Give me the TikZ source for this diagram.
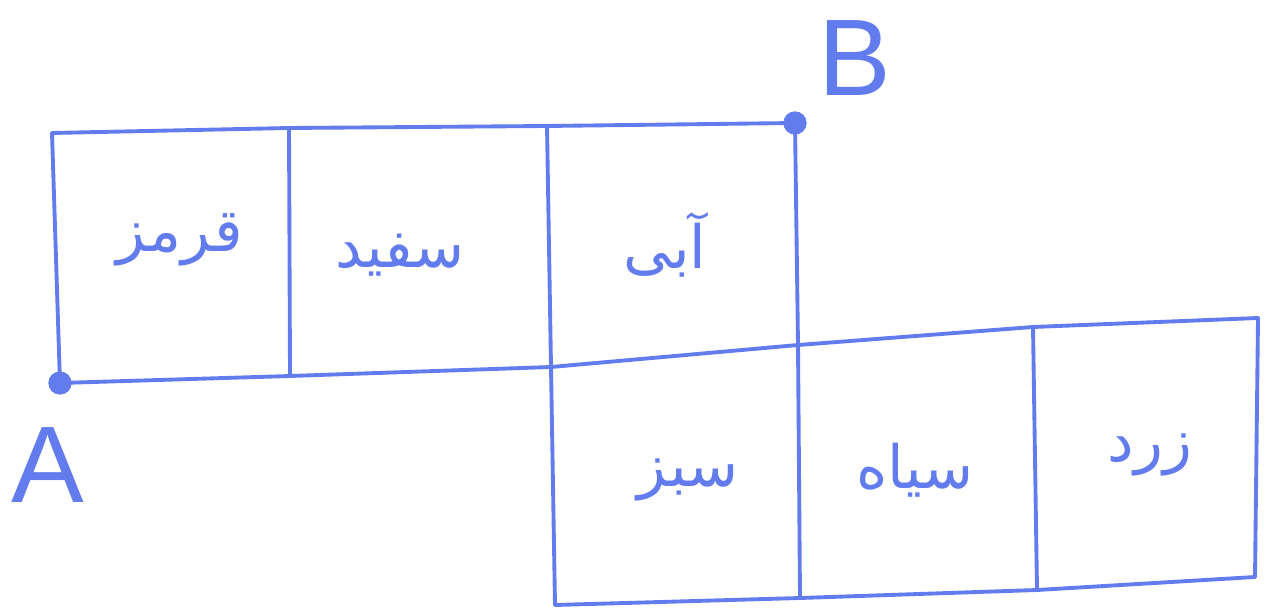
\documentclass[tikz,border=0pt]{standalone}
\usepackage{fontspec}
\setmainfont{Liberation Sans}
\newfontfamily\arabicfont[Script=Arabic]{DejaVu Sans}
\TeXXeTstate=1
\definecolor{pen}{RGB}{98,124,238}

\begin{document}
\begin{tikzpicture}[
    x=0.02cm, y=-0.02cm,
    edge/.style={pen, line width=2.2pt, line cap=round, line join=round},
    word/.style={text=pen, font=\arabicfont\fontsize{34}{40}\selectfont},
    dot/.style={circle, fill=pen, draw=pen, inner sep=0pt, minimum size=0.45cm},
    letter/.style={text=pen, font=\fontsize{62}{70}\selectfont}
]
\useasboundingbox (0,0) rectangle (1273,611);

% corners of the grid
\coordinate (a1) at (52,133);
\coordinate (a2) at (289,128);
\coordinate (a3) at (547,126);
\coordinate (a4) at (795,123);
\coordinate (b1) at (60,383);
\coordinate (b2) at (290,376);
\coordinate (b3) at (551,367);
\coordinate (b4) at (798,345);
\coordinate (c5) at (1033,327);
\coordinate (c6) at (1258,318);
\coordinate (d3) at (555,605);
\coordinate (d4) at (800,598);
\coordinate (d5) at (1037,590);
\coordinate (d6) at (1255,577);

% top row
\draw[edge] (a1) -- (a2) -- (a3) -- (a4);
\draw[edge] (b1) -- (b2) -- (b3) -- (b4);
\draw[edge] (a1) -- (b1);
\draw[edge] (a2) -- (b2);
\draw[edge] (a3) -- (b3) -- (d3);
\draw[edge] (a4) -- (b4) -- (d4);

% bottom row
\draw[edge] (b4) -- (c5) -- (c6) -- (d6);
\draw[edge] (c5) -- (d5);
\draw[edge] (d3) -- (d4) -- (d5) -- (d6);

% colour words
\node[word] (red)    at (180,240) {\beginR قرمز\endR};
\node[word] (white)  at (400,255) {\beginR سفید\endR};
\node[word] (blue)   at (665,245) {\beginR آبی\endR};
\node[word] (green)  at (688,480) {\beginR سبز\endR};
\node[word] (black)  at (915,470) {\beginR سیاه\endR};
\node[word] (yellow) at (1150,455) {\beginR زرد\endR};

% end points
\node[dot] (ptA) at (b1) {};
\node[dot] (ptB) at (a4) {};
\node[letter] (labA) at (48,465) {A};
\node[letter] (labB) at (855,58) {B};
\end{tikzpicture}
\end{document}
